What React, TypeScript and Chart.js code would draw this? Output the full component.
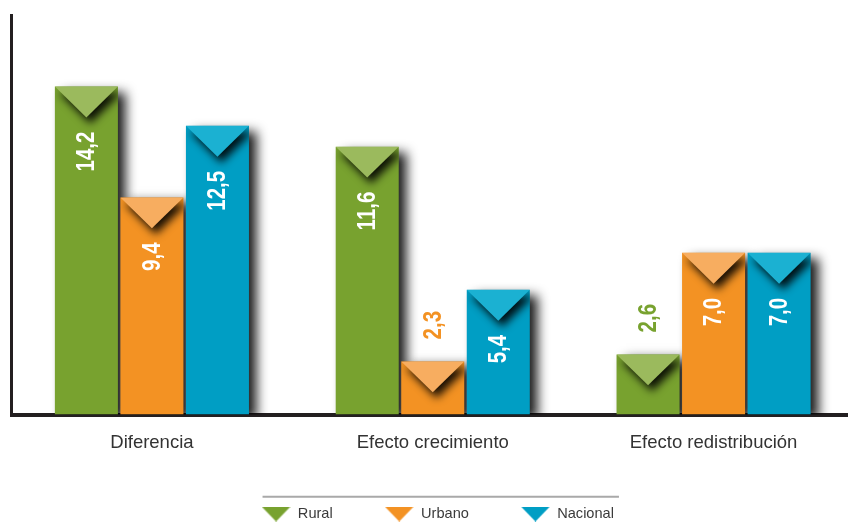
import { useEffect, useRef } from 'react';
import { Chart, registerables } from 'chart.js';

Chart.register(...registerables);

const categories = ['Diferencia', 'Efecto crecimiento', 'Efecto redistribución'];
const seriesNames = ['Rural', 'Urbano', 'Nacional'];
const ruralValues = [14.2, 11.6, 2.6];
const urbanoValues = [9.4, 2.3, 7.0];
const nacionalValues = [12.5, 5.4, 7.0];

const barColors = ['#78a22f', '#f39223', '#009ec4'];
const capColors = ['#9bba5d', '#f7ad60', '#1bb1d2'];
const FONT = '"Liberation Sans", Arial, sans-serif';

const fmt = (v: number) => v.toFixed(1).replace('.', ',');

function makeLegendMarker(color: string) {
  const c = document.createElement('canvas');
  c.width = 29;
  c.height = 15;
  const g = c.getContext('2d')!;
  g.fillStyle = color;
  g.beginPath();
  g.moveTo(0, 0);
  g.lineTo(29, 0);
  g.lineTo(14.5, 15);
  g.closePath();
  g.fill();
  return c;
}

const LEGEND_HEIGHT = 67.3;
const LEGEND_SHIFT = 5;

const barFx = {
  id: 'barFx',
  beforeLayout(chart: any) {
    const lg = chart.legend;
    if (lg && !lg.__fixed) {
      const orig = lg.fit.bind(lg);
      lg.fit = function () {
        orig();
        this.height = LEGEND_HEIGHT;
      };
      lg.__fixed = true;
    }
  },
  afterLayout(chart: any) {
    const lg = chart.legend;
    if (lg) {
      lg.left += LEGEND_SHIFT;
      lg.right += LEGEND_SHIFT;
    }
  },
  beforeDatasetsDraw(chart: any) {
    const ctx = chart.ctx;
    const a = chart.chartArea;
    ctx.save();
    ctx.beginPath();
    ctx.rect(a.left, a.top, a.right - a.left, a.bottom - a.top);
    ctx.clip();
    chart.data.datasets.forEach((_ds: any, di: number) => {
      const meta = chart.getDatasetMeta(di);
      meta.data.forEach((bar: any) => {
        const { x, y, base, width } = bar.getProps(['x', 'y', 'base', 'width'], true);
        const left = x - width / 2;
        ctx.shadowColor = 'rgba(0,0,0,0.9)';
        ctx.shadowBlur = 11;
        ctx.shadowOffsetX = 10000 + 8;
        ctx.shadowOffsetY = 5;
        ctx.fillStyle = '#000';
        ctx.fillRect(left - 10000, y, width, base - y);
      });
    });
    ctx.restore();
  },
  afterDatasetsDraw(chart: any) {
    const ctx = chart.ctx;
    chart.data.datasets.forEach((ds: any, di: number) => {
      const meta = chart.getDatasetMeta(di);
      meta.data.forEach((bar: any, i: number) => {
        const { x, y, base, width } = bar.getProps(['x', 'y', 'base', 'width'], true);
        const left = x - width / 2;
        const depth = width * 0.49;
        ctx.save();
        ctx.beginPath();
        ctx.rect(left, y, width, base - y);
        ctx.clip();
        ctx.shadowColor = 'rgba(0,0,0,0.9)';
        ctx.shadowBlur = 9;
        ctx.shadowOffsetX = 4;
        ctx.shadowOffsetY = 6;
        ctx.fillStyle = capColors[di];
        ctx.beginPath();
        ctx.moveTo(left, y);
        ctx.lineTo(left + width, y);
        ctx.lineTo(x, y + depth);
        ctx.closePath();
        ctx.fill();
        ctx.restore();

        const v = ds.data[i] as number;
        const inside = v >= 3;
        ctx.save();
        ctx.font = 'bold 25px ' + FONT;
        ctx.textBaseline = 'middle';
        if (inside) {
          ctx.translate(x + 1, y + 45);
          ctx.rotate(-Math.PI / 2);
          ctx.scale(0.82, 1);
          ctx.textAlign = 'right';
          ctx.fillStyle = '#ffffff';
        } else {
          ctx.translate(x + 1, y - 22);
          ctx.rotate(-Math.PI / 2);
          ctx.scale(0.82, 1);
          ctx.textAlign = 'left';
          ctx.fillStyle = barColors[di];
        }
        ctx.fillText(fmt(v), 0, 0);
        ctx.restore();
      });
    });
  },
  afterDraw(chart: any) {
    const lg = chart.legend;
    if (!lg || !lg.legendHitBoxes || !lg.legendHitBoxes.length) return;
    const hb = lg.legendHitBoxes;
    const first = hb[0];
    const last = hb[hb.length - 1];
    const ctx = chart.ctx;
    ctx.save();
    ctx.strokeStyle = '#a9a9a9';
    ctx.lineWidth = 2;
    ctx.beginPath();
    const yy = first.top - 10;
    ctx.moveTo(first.left + 1, yy);
    ctx.lineTo(last.left + last.width + 5, yy);
    ctx.stroke();
    ctx.restore();
  },
};

export default function App() {
  const ref = useRef<HTMLCanvasElement | null>(null);

  useEffect(() => {
    if (!ref.current) return;
    const markers = barColors.map((c) => makeLegendMarker(c));
    const seriesValues = [ruralValues, urbanoValues, nacionalValues];
    const chart = new Chart(ref.current, {
      type: 'bar',
      data: {
        labels: categories,
        datasets: seriesNames.map((name, i) => ({
          label: name,
          data: seriesValues[i],
          backgroundColor: barColors[i],
          borderWidth: 0,
          categoryPercentage: 0.7,
          barPercentage: 0.962,
        })),
      },
      options: {
        responsive: false,
        animation: false,
        devicePixelRatio: 1,
        layout: { padding: { top: 15, left: 11.5, right: 0, bottom: 0 } },
        plugins: {
          tooltip: { enabled: false },
          legend: {
            position: 'bottom',
            labels: {
              usePointStyle: true,
              pointStyleWidth: 29,
              padding: 52,
              color: '#3a3a3a',
              font: { family: FONT, size: 14.6 },
              generateLabels: (ch: any) => {
                const items = Chart.defaults.plugins.legend.labels.generateLabels(ch);
                return items.map((it: any, i: number) => ({
                  ...it,
                  pointStyle: markers[i],
                  rotation: 0,
                  lineWidth: 0,
                }));
              },
            },
          },
        },
        scales: {
          x: {
            grid: { display: false, drawTicks: false },
            border: { display: true, color: '#231f20', width: 4 },
            ticks: {
              color: '#333333',
              padding: 17,
              font: { family: FONT, size: 18.5 },
            },
            afterFit: (s: any) => {
              s.height = 40.2;
            },
          },
          y: {
            min: 0,
            max: 17.3,
            grid: { display: false, drawTicks: false },
            border: { display: true, color: '#231f20', width: 3 },
            ticks: { display: false },
          },
        },
      } as any,
      plugins: [barFx as any],
    });
    return () => chart.destroy();
  }, []);

  return (
    <div style={{ position: 'absolute', left: 0, top: 0, width: 848, height: 522, overflow: 'hidden', background: '#ffffff' }}>
      <canvas ref={ref} width={854} height={522} style={{ display: 'block', width: 854, height: 522 }} />
    </div>
  );
}
